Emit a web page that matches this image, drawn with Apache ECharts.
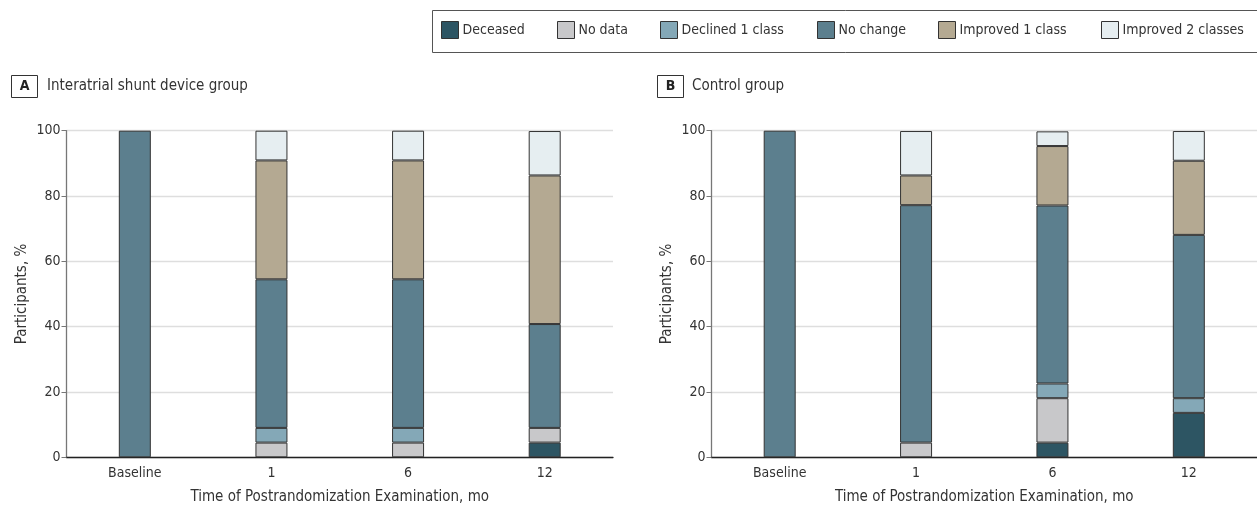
<!DOCTYPE html>
<html>
<head>
<meta charset="utf-8">
<script src="https://cdn.jsdelivr.net/npm/echarts@6/dist/echarts.min.js"></script>
<style>
html,body{margin:0;padding:0;background:#fff;}
#chart{width:1257px;height:525px;}
</style>
</head>
<body>
<div id="chart"></div>
<script>
// ---- Data (percent of participants) ----
const categories = ['Baseline', '1', '6', '12'];
const seriesNames = ['Deceased', 'No data', 'Declined 1 class', 'No change', 'Improved 1 class', 'Improved 2 classes'];
const yTicks = [0, 20, 40, 60, 80, 100];

// Panel A: Interatrial shunt device group
const shuntDeceased   = [0, 0, 0, 4.5];
const shuntNoData     = [0, 4.5, 4.5, 4.5];
const shuntDeclined   = [0, 4.5, 4.5, 0];
const shuntNoChange   = [100, 45.5, 45.5, 31.8];
const shuntImproved1  = [0, 36.4, 36.4, 45.5];
const shuntImproved2  = [0, 9.1, 9.1, 13.6];

// Panel B: Control group
const ctrlDeceased    = [0, 0, 4.5, 13.6];
const ctrlNoData      = [0, 4.5, 13.6, 0];
const ctrlDeclined    = [0, 0, 4.5, 4.5];
const ctrlNoChange    = [100, 72.7, 54.5, 50.0];
const ctrlImproved1   = [0, 9.1, 18.2, 22.7];
const ctrlImproved2   = [0, 13.6, 4.5, 9.1];

// ---- Styling ----
const FONT = '"Liberation Sans Narrow","DejaVu Sans Condensed","Roboto Condensed","Liberation Sans",sans-serif';
const colors = ['#2d5563', '#c8c8ca', '#84a8b7', '#5c7f8e', '#b4a992', '#e6eef1'];
const shuntData = [shuntDeceased, shuntNoData, shuntDeclined, shuntNoChange, shuntImproved1, shuntImproved2];
const ctrlData = [ctrlDeceased, ctrlNoData, ctrlDeclined, ctrlNoChange, ctrlImproved1, ctrlImproved2];

const chart = echarts.init(document.getElementById('chart'), null, {renderer: 'canvas'});

function xAxisFor(gi) {
  return {
    type: 'category', gridIndex: gi, data: categories,
    axisLine: {lineStyle: {color: '#222', width: 1.3}},
    axisTick: {show: false},
    axisLabel: {color: '#333', fontSize: 14, fontFamily: FONT, margin: 9},
    name: 'Time of Postrandomization Examination, mo',
    nameLocation: 'middle', nameGap: 32,
    nameTextStyle: {color: '#333', fontSize: 15, fontFamily: FONT}
  };
}
function yAxisFor(gi) {
  return {
    type: 'value', gridIndex: gi, min: 0, max: 100, interval: 20,
    axisLine: {show: true, lineStyle: {color: '#777', width: 1.3}},
    axisTick: {show: true, length: 5, lineStyle: {color: '#777'}},
    axisLabel: {color: '#333', fontSize: 14, fontFamily: FONT, margin: 6,
      formatter: v => (yTicks.indexOf(v) >= 0 ? String(v) : '')},
    splitLine: {show: true, lineStyle: {color: '#dedede', width: 1.3}},
    name: 'Participants, %', nameLocation: 'middle', nameGap: 37,
    nameTextStyle: {color: '#333', fontSize: 15, fontFamily: FONT}
  };
}

const series = [];
[shuntData, ctrlData].forEach((set, gi) => {
  set.forEach((arr, si) => {
    series.push({
      type: 'bar', name: seriesNames[si], xAxisIndex: gi, yAxisIndex: gi,
      stack: 'panel' + gi, barWidth: 32,
      data: arr.map(v => (v === 0 ? '-' : v)),
      itemStyle: {color: colors[si], borderColor: '#333', borderWidth: 1},
      emphasis: {disabled: true}
    });
  });
});

const legendLefts = [441, 557, 660, 817, 938, 1101];
const legends = seriesNames.map((n, i) => ({
  data: [n], left: legendLefts[i], top: 21, itemWidth: 17, itemHeight: 17, itemGap: 0,
  padding: 0, selectedMode: false, icon: 'rect',
  itemStyle: {borderWidth: 1, borderColor: '#333'},
  textStyle: {color: '#333', fontSize: 14, fontFamily: FONT, padding: [0, 0, 0, -1]}
}));

const option = {
  animation: false,
  backgroundColor: '#fff',
  color: colors,
  legend: legends,
  grid: [
    {left: 66.5, width: 546.5, top: 130.7, height: 326.6, containLabel: false},
    {left: 711.5, width: 546, top: 130.7, height: 326.6, containLabel: false}
  ],
  xAxis: [xAxisFor(0), xAxisFor(1)],
  yAxis: [yAxisFor(0), yAxisFor(1)],
  series: series,
  graphic: [
    {type: 'rect', shape: {x: 432.5, y: 10.5, width: 840, height: 42},
     style: {fill: 'none', stroke: '#555', lineWidth: 1}},
    {type: 'rect', shape: {x: 11.5, y: 75.5, width: 26, height: 22},
     style: {fill: '#fff', stroke: '#333', lineWidth: 1}},
    {type: 'text', x: 24.5, y: 86.5, style: {text: 'A', font: 'bold 14px ' + FONT, fill: '#222', textAlign: 'center', textVerticalAlign: 'middle'}},
    {type: 'text', x: 47, y: 86.5, style: {text: 'Interatrial shunt device group', font: '15px ' + FONT, fill: '#333', textVerticalAlign: 'middle'}},
    {type: 'rect', shape: {x: 657.5, y: 75.5, width: 26, height: 22},
     style: {fill: '#fff', stroke: '#333', lineWidth: 1}},
    {type: 'text', x: 670.5, y: 86.5, style: {text: 'B', font: 'bold 14px ' + FONT, fill: '#222', textAlign: 'center', textVerticalAlign: 'middle'}},
    {type: 'text', x: 692, y: 86.5, style: {text: 'Control group', font: '15px ' + FONT, fill: '#333', textVerticalAlign: 'middle'}}
  ]
};
chart.setOption(option);
</script>
</body>
</html>
